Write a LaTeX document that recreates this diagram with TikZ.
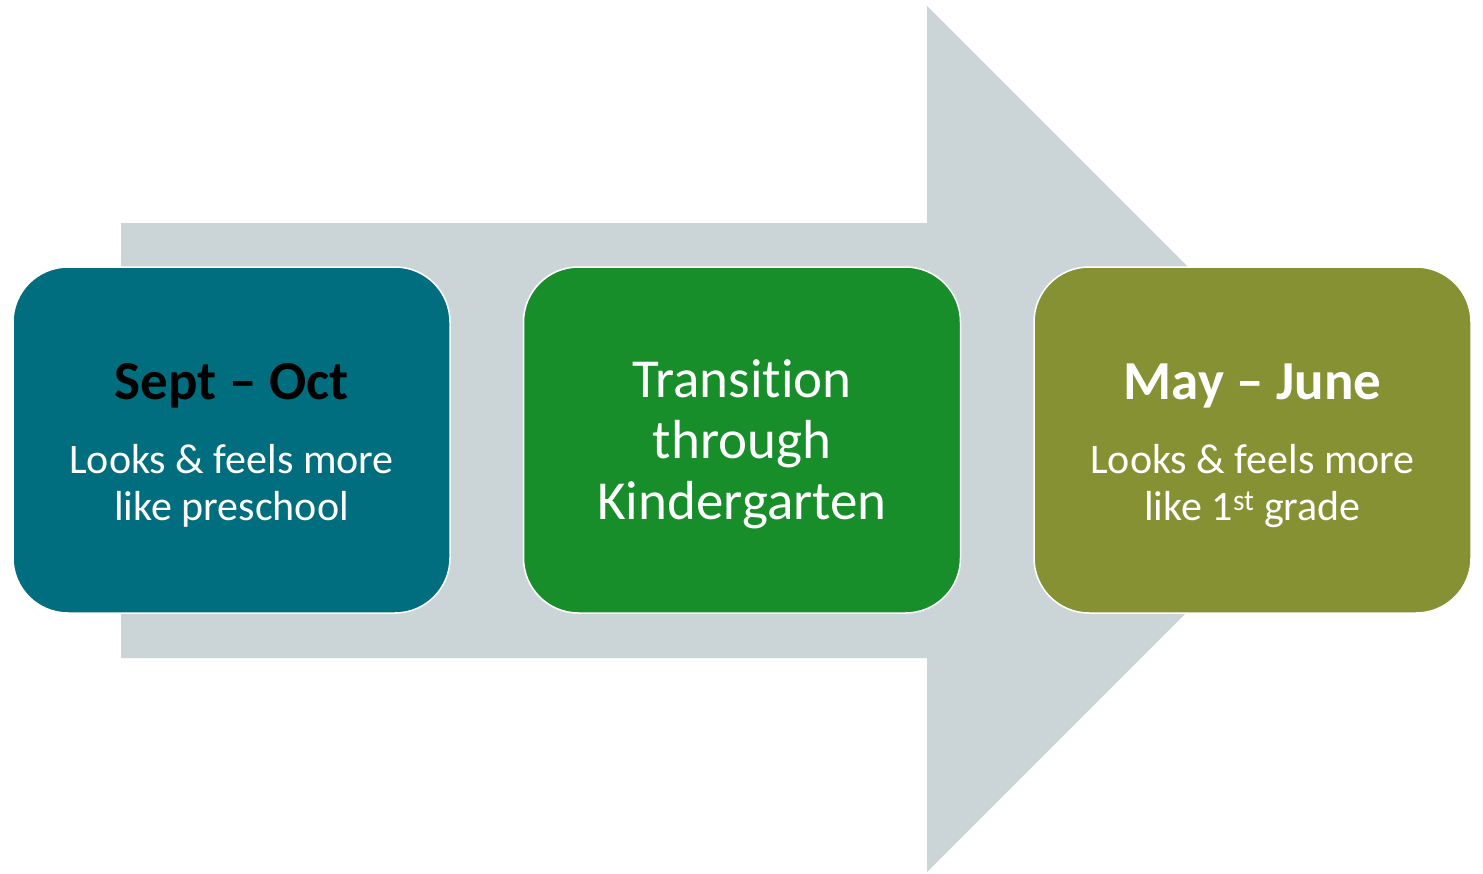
\documentclass[tikz,border=0pt]{standalone}
\usepackage{fontspec}
\setmainfont{Carlito}[Ligatures=NoCommon]
\definecolor{arrowgray}{HTML}{CBD5D8}
\definecolor{tealbox}{HTML}{006E7F}
\definecolor{greenbox}{HTML}{178E2A}
\definecolor{olivebox}{HTML}{859133}
\begin{document}
\begin{tikzpicture}[x=1pt,y=-1pt,
  stagebox/.style={draw=white,line width=1.5pt,rounded corners=55pt,minimum width=437pt,minimum height=346pt,inner sep=0pt},
  titletext/.style={anchor=base,font=\fontsize{55}{62}\selectfont\bfseries},
  bodytext/.style={anchor=base,align=center,text=white,font=\fontsize{42}{47}\selectfont},
  midtext/.style={anchor=base,align=center,text=white,font=\fontsize{55}{61}\selectfont}]
\useasboundingbox (0,0) rectangle (1483,873);
\fill[arrowgray] (121,223) -- (927,223) -- (927,6) -- (1360,439) -- (927,872) -- (927,658) -- (121,658) -- cycle;
\node[stagebox,fill=tealbox] (b1) at (231.5,440) {};
\node[stagebox,fill=greenbox] (b2) at (742,440) {};
\node[stagebox,fill=olivebox] (b3) at (1252.5,440) {};
\node[titletext,text=black] (t1) at (231.5,399) {Sept – Oct};
\node[bodytext] (d1) at (231.5,520) {Looks \& feels more\\like preschool};
\node[midtext] (t2) at (742,519) {Transition\\through\\Kindergarten};
\node[titletext,text=white] (t3) at (1252.5,399) {May – June};
\node[bodytext] (d3) at (1252.5,520) {Looks \& feels more\\like 1\textsuperscript{st} grade};
\end{tikzpicture}
\end{document}
